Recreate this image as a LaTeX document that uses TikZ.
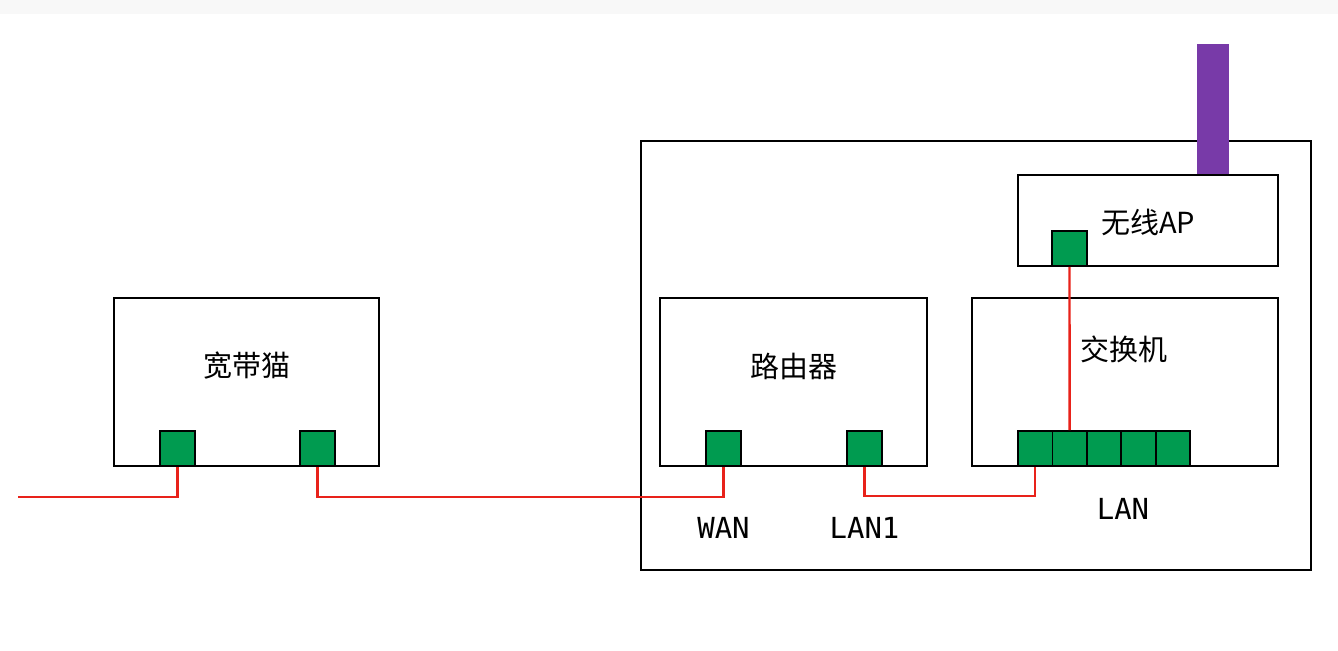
\documentclass[tikz,border=0pt]{standalone}
\usepackage{fontspec}
\setmonofont{DejaVu Sans Mono}
\newfontfamily\cjk{Noto Sans CJK SC}
\usepackage{tikz}
\usetikzlibrary{positioning, calc}
\definecolor{portgreen}{RGB}{0,155,80}
\definecolor{cablered}{RGB}{232,34,26}
\definecolor{antpurple}{RGB}{120,58,168}
\definecolor{topgray}{RGB}{248,248,248}
\tikzset{
  device/.style={
    rectangle, draw=black, line width=0.9pt, fill=white, inner sep=0pt
  },
  port/.style={
    rectangle, draw=black, line width=0.9pt, fill=portgreen,
    minimum size=17.5pt, inner sep=0pt
  },
  cable/.style={draw=cablered, line width=1.2pt},
  devlabel/.style={font=\cjk\fontsize{14.5}{16}\selectfont},
  portlabel/.style={font=\ttfamily\fontsize{14.5}{16}\selectfont}
}
\begin{document}
\begin{tikzpicture}[x=0.5pt, y=-0.5pt]
  % Canvas
  \fill[white] (0,0) rectangle (1338,650);
  \fill[topgray] (0,0) rectangle (1338,14);
  \useasboundingbox (0,0) rectangle (1338,650);

  % Enclosure
  \draw[line width=0.9pt] (641,141) rectangle (1311,570);
  \fill[antpurple] (1197,44) rectangle (1229,175);

  % Modem
  \node[device, minimum width=132.5pt, minimum height=84pt] (modem) at (246.5,382) {};
  \node[devlabel] (modemlbl) at (247,366) {宽带猫};
  \node[port] (mport1) at (177.5,448.5) {};
  \node[port] (mport2) at (317.5,448.5) {};

  % Router
  \node[device, minimum width=133.5pt, minimum height=84pt] (router) at (793.5,382) {};
  \node[devlabel] (routerlbl) at (793.5,366) {路由器};
  \node[port] (wan) at (723.5,448.5) {};
  \node[port] (lanone) at (864.5,448.5) {};
  \node[portlabel] (wanlbl) at (723.5,528) {WAN};
  \node[portlabel] (lanonelbl) at (864.5,528) {LAN1};

  % Switch
  \node[device, minimum width=153pt, minimum height=84pt] (switch) at (1125,382) {};
  \node[devlabel] (switchlbl) at (1124,349) {交换机};
  \foreach \i in {1,...,5}
    \node[port, minimum width=17.2pt] (sw\i) at ({1035.2+34.4*(\i-1)},448.5) {};
  \node[portlabel] (lanlbl) at (1123,509) {LAN};

  % Access point
  \node[device, minimum width=130pt, minimum height=45.5pt] (ap) at (1148,220.5) {};
  \node[devlabel] (aplbl) at (1148,222) {无线AP};
  \node[port] (apport) at (1069.5,248.5) {};

  % Cables
  \coordinate (inet) at (18,497);
  \draw[cable] (inet) -| (mport1.south);
  \draw[cable] (mport2.south) -- (mport2.south |- inet) -| (wan.south);
  \draw[cable] (lanone.south) -- ++(0,29) -| (sw1.south);
  \draw[cable] (sw2.north) -- (apport.south);
\end{tikzpicture}
\end{document}
